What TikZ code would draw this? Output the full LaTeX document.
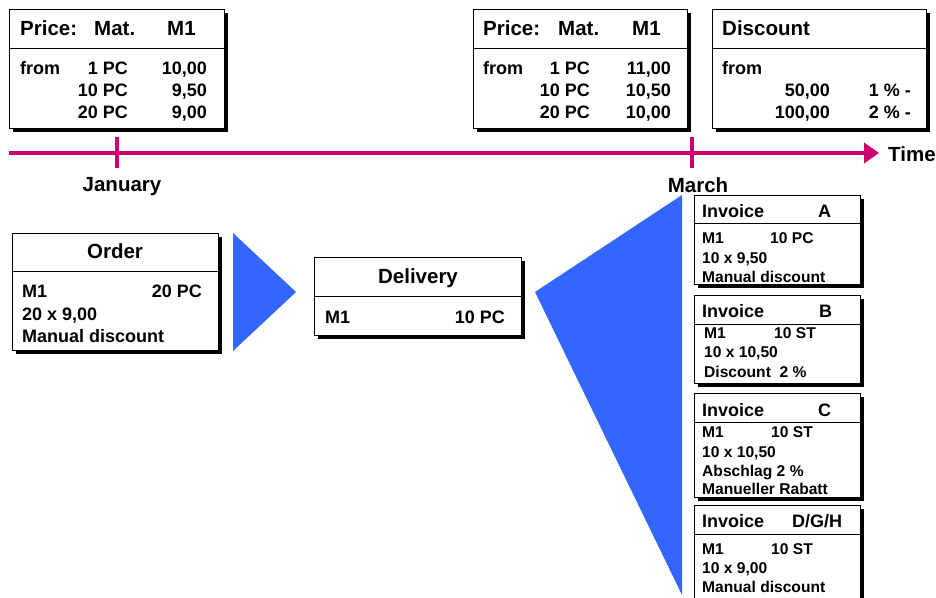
\documentclass[tikz,border=0pt]{standalone}
\usepackage{fontspec}
\setmainfont{Liberation Sans}
\usepackage{tikz}
\usetikzlibrary{arrows.meta,shadows}
\definecolor{timepink}{HTML}{CC0070}
\definecolor{arrowblue}{HTML}{3366FF}
\tikzset{
  card/.style={draw=black,line width=0.9pt,fill=white,anchor=north west,inner sep=0pt,drop shadow={shadow xshift=4pt,shadow yshift=-4pt,opacity=1,fill=black}},
  sep/.style={line width=0.9pt},
  head/.style={font=\fontsize{20.5}{24}\selectfont\bfseries,inner sep=0pt},
  body/.style={font=\fontsize{18}{21}\selectfont\bfseries,inner sep=0pt},
  ihead/.style={font=\fontsize{18}{21}\selectfont\bfseries,inner sep=0pt},
  ibody/.style={font=\fontsize{15.6}{19}\selectfont\bfseries,inner sep=0pt},
  lft/.style={anchor=base west},
  rgt/.style={anchor=base east},
  mid/.style={anchor=base},
  timeline/.style={-{Triangle[length=15pt,width=20pt]},line width=4.5pt,color=timepink},
  tick/.style={line width=3.5pt,color=timepink},
  bigarrow/.style={fill=arrowblue},
}

\begin{document}
\begin{tikzpicture}[x=1pt,y=-1pt]
    \useasboundingbox (0,0) rectangle (936,597);

    % price list January
    \node[card,minimum width=215pt,minimum height=119pt] (janprice) at (9,9) {};
    \draw[sep] (janprice.west |- 0,48) -- (janprice.east |- 0,48);
    \node[head,lft] at (20,35) {Price:};
    \node[head,lft] at (94,35) {Mat.};
    \node[head,lft] at (167,35) {M1};
    \node[body,lft] at (20,74) {from};
    \node[body,rgt] at (128,74) {1 PC};
    \node[body,rgt] at (128,96) {10 PC};
    \node[body,rgt] at (128,118) {20 PC};
    \node[body,rgt] at (207,74) {10,00};
    \node[body,rgt] at (207,96) {9,50};
    \node[body,rgt] at (207,118) {9,00};

    % price list March
    \node[card,minimum width=214pt,minimum height=119pt] (marprice) at (473,9) {};
    \draw[sep] (marprice.west |- 0,48) -- (marprice.east |- 0,48);
    \node[head,lft] at (483,35) {Price:};
    \node[head,lft] at (558,35) {Mat.};
    \node[head,lft] at (632,35) {M1};
    \node[body,lft] at (483,74) {from};
    \node[body,rgt] at (590,74) {1 PC};
    \node[body,rgt] at (590,96) {10 PC};
    \node[body,rgt] at (590,118) {20 PC};
    \node[body,rgt] at (671,74) {11,00};
    \node[body,rgt] at (671,96) {10,50};
    \node[body,rgt] at (671,118) {10,00};

    % discount
    \node[card,minimum width=214pt,minimum height=119pt] (discount) at (712,9) {};
    \draw[sep] (discount.west |- 0,48) -- (discount.east |- 0,48);
    \node[head,lft] at (722,35) {Discount};
    \node[body,lft] at (722,74) {from};
    \node[body,rgt] at (830,96) {50,00};
    \node[body,rgt] at (830,118) {100,00};
    \node[body,rgt] at (911,96) {1 \% -};
    \node[body,rgt] at (911,118) {2 \% -};

    % time axis
    \coordinate (tstart) at (9,153);
    \coordinate (tend) at (879,153);
    \draw[timeline] (tstart) -- (tend);
    \coordinate (jantop) at (117,137);
    \coordinate (janbot) at (117,168);
    \coordinate (martop) at (692,137);
    \coordinate (marbot) at (692,168);
    \draw[tick] (jantop) -- (janbot);
    \draw[tick] (martop) -- (marbot);
    \node[head,lft] (time) at (888,161) {Time};
    \node[head,mid] (jan) at (122,191) {January};
    \node[head,mid] (mar) at (698,192) {March};

    % order
    \node[card,minimum width=206pt,minimum height=117pt] (order) at (12,233) {};
    \draw[sep] (order.west |- 0,271) -- (order.east |- 0,271);
    \node[head,mid] at (115,258) {Order};
    \node[body,lft] at (22,297) {M1};
    \node[body,rgt] at (202,297) {20 PC};
    \node[body,lft] at (22,320) {20 x 9,00};
    \node[body,lft] at (22,342) {Manual discount};

    \fill[bigarrow] (233,233) -- (296,292) -- (233,351) -- cycle;

    % delivery
    \node[card,minimum width=207pt,minimum height=78pt] (delivery) at (314,257) {};
    \draw[sep] (delivery.west |- 0,296) -- (delivery.east |- 0,296);
    \node[head,mid] at (418,283) {Delivery};
    \node[body,lft] at (325,323) {M1};
    \node[body,rgt] at (505,323) {10 PC};

    \fill[bigarrow] (535,292) -- (682,195) -- (682,595) -- cycle;

    % invoices
    \node[card,minimum width=166pt,minimum height=89pt] (invA) at (694,195) {};
    \draw[sep] (invA.west |- 0,223) -- (invA.east |- 0,223);
    \node[ihead,lft] at (702,217) {Invoice};
    \node[ihead,lft] at (818,217) {A};
    \node[ibody,lft] at (702,243) {M1};
    \node[ibody,lft] at (770,243) {10 PC};
    \node[ibody,lft] at (702,263) {10 x 9,50};
    \node[ibody,lft] at (702,282) {Manual discount};

    \node[card,minimum width=166pt,minimum height=88pt] (invB) at (694,295) {};
    \draw[sep] (invB.west |- 0,324) -- (invB.east |- 0,324);
    \node[ihead,lft] at (702,317) {Invoice};
    \node[ihead,lft] at (819,317) {B};
    \node[ibody,lft] at (704,338) {M1};
    \node[ibody,lft] at (774,338) {10 ST};
    \node[ibody,lft] at (704,357) {10 x 10,50};
    \node[ibody,lft] at (704,377) {Discount\ \ 2 \%};

    \node[card,minimum width=166pt,minimum height=104pt] (invC) at (694,393) {};
    \draw[sep] (invC.west |- 0,422) -- (invC.east |- 0,422);
    \node[ihead,lft] at (702,416) {Invoice};
    \node[ihead,lft] at (818,416) {C};
    \node[ibody,lft] at (702,437) {M1};
    \node[ibody,lft] at (771,437) {10 ST};
    \node[ibody,lft] at (702,457) {10 x 10,50};
    \node[ibody,lft] at (702,476) {Abschlag 2 \%};
    \node[ibody,lft] at (702,494) {Manueller Rabatt};

    \node[card,minimum width=166pt,minimum height=105pt] (invD) at (694,505) {};
    \draw[sep] (invD.west |- 0,534) -- (invD.east |- 0,534);
    \node[ihead,lft] at (702,527) {Invoice};
    \node[ihead,lft] at (792,527) {D/G/H};
    \node[ibody,lft] at (702,554) {M1};
    \node[ibody,lft] at (771,554) {10 ST};
    \node[ibody,lft] at (702,573) {10 x 9,00};
    \node[ibody,lft] at (702,592) {Manual discount};
  \end{tikzpicture}
\end{document}
